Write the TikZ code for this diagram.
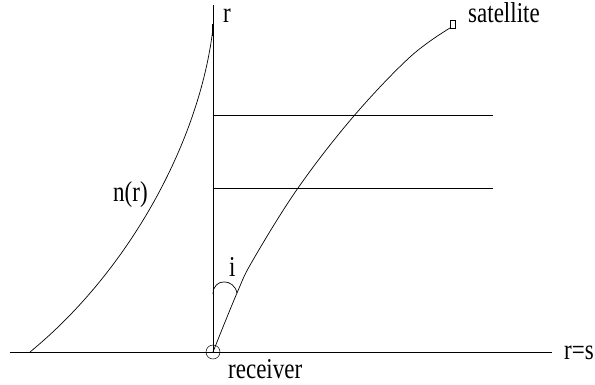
\documentclass[tikz,border=0pt]{standalone}
\usepackage{graphicx}
\usepackage{fontspec}
\setmainfont{Liberation Serif}
\newcommand{\tallt}[1]{\scalebox{1}[1.25]{#1}}
\begin{document}
\begin{tikzpicture}[x=1pt,y=-1pt,
  axis/.style={line width=0.9pt},
  curve/.style={line width=0.7pt},
  lbl/.style={font=\fontsize{23}{26}\selectfont, inner sep=0pt}]
\useasboundingbox (0,0) rectangle (595,384);
\clip (0,0) rectangle (595,384);
% key points
\coordinate (O) at (213,352);
\coordinate (Otop) at (213,5);
\coordinate (L) at (10,352);
\coordinate (R) at (552,352);
\coordinate (h1a) at (213,115);
\coordinate (h1b) at (493,115);
\coordinate (h2a) at (213,188);
\coordinate (h2b) at (493,188);
\coordinate (n0) at (30,352);
\coordinate (n1) at (213,28);
% axes
\draw[axis] (L) -- (R);
\draw[axis] (O) -- (Otop);
\draw[axis] (h1a) -- (h1b);
\draw[axis] (h2a) -- (h2b);
% receiver circle
\node[draw, circle, minimum size=14pt, inner sep=0pt, line width=0.5pt] (rc) at (O) {};
% n(r) curve
\draw[curve] (n0) .. controls (130,270) and (200,140) .. (n1);
\draw[line width=1.4pt] (213,24) -- (213,36);
% ray
\draw[curve] plot[smooth, tension=0.6] coordinates {(O) (237,293) (253,260) (298,188) (353,117) (410,57) (450,28)};
% satellite box
\node[draw, line width=0.6pt, minimum width=5pt, minimum height=8pt, inner sep=0pt] (sat) at (453,24) {};
% angle arc
\coordinate (a1) at (213,294);
\coordinate (a2) at (237,293);
\draw[line width=0.7pt] (a1) .. controls (213,278) and (234,278) .. (a2);
% labels
\node[lbl, anchor=base west] (lr) at (223,22) {\tallt{r}};
\node[lbl, anchor=base west] (lsat) at (468,22) {\tallt{satellite}};
\node[lbl, anchor=base west] (lnr) at (113,201) {\tallt{n(r)}};
\node[lbl, anchor=base west] (li) at (229,276) {\tallt{i}};
\node[lbl, anchor=base west] (lrec) at (228,378) {\tallt{receiver}};
\node[lbl, anchor=base west] (lrs) at (564,359) {\tallt{r=s}};
\end{tikzpicture}
\end{document}
